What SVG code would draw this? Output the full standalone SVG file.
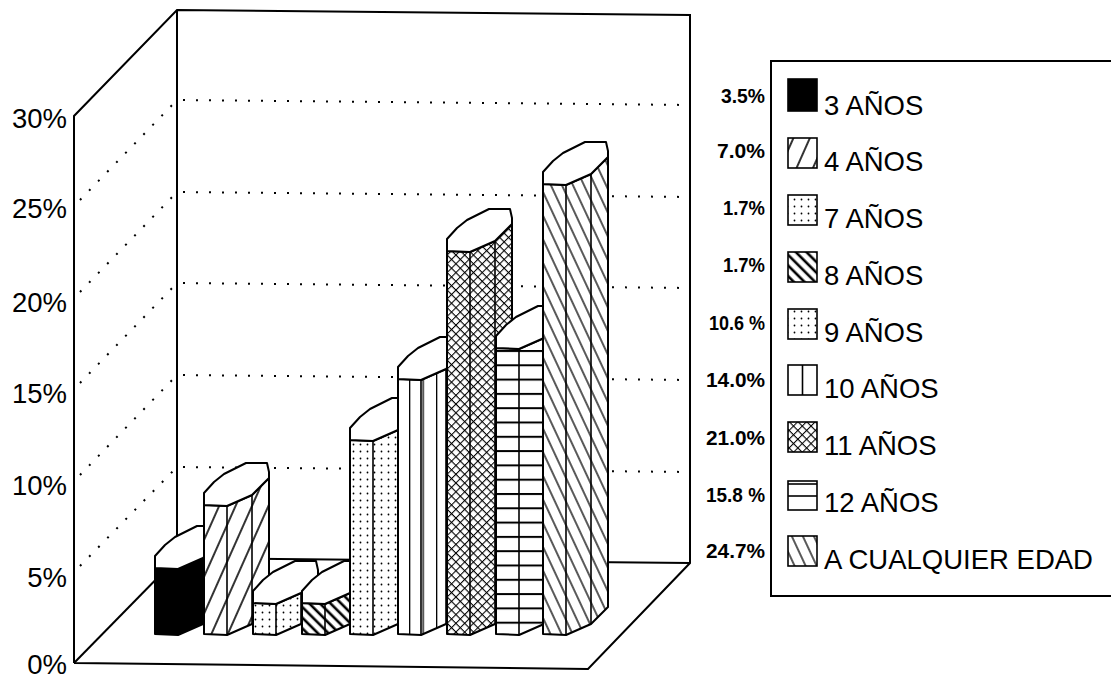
<svg xmlns="http://www.w3.org/2000/svg" width="1111" height="678" viewBox="0 0 1111 678">
<style>
.frame{fill:none;stroke:#000;stroke-width:2}
.grid{fill:none;stroke:#000;stroke-width:2;stroke-dasharray:2 11}
.body{stroke:#000;stroke-width:2;stroke-linejoin:round}
.top{fill:#fff;stroke:#000;stroke-width:2;stroke-linejoin:round}
.div{stroke:#000;stroke-width:1.6}
.ax{font-family:"Liberation Sans",Arial,sans-serif;font-size:27.5px;fill:#000}
.lg{font-family:"Liberation Sans",Arial,sans-serif;font-size:27.5px;fill:#000}
.pc{font-family:"Liberation Sans",Arial,sans-serif;font-size:21px;font-weight:bold;fill:#000}
.sw{stroke:#000;stroke-width:1.6}
</style>
<defs>
<pattern id="pFwd" patternUnits="userSpaceOnUse" width="15" height="15" patternTransform="rotate(24)">
<rect width="15" height="15" fill="#fff"/><line x1="1" y1="0" x2="1" y2="15" stroke="#000" stroke-width="1.6"/>
</pattern>
<pattern id="pDots" patternUnits="userSpaceOnUse" width="7" height="7">
<rect width="7" height="7" fill="#fff"/><circle cx="3.5" cy="3.5" r="0.9" fill="#000"/>
</pattern>
<pattern id="pThick" patternUnits="userSpaceOnUse" width="7.5" height="7.5" patternTransform="rotate(-45)">
<rect width="7.5" height="7.5" fill="#fff"/><line x1="2" y1="0" x2="2" y2="7.5" stroke="#000" stroke-width="2.6"/>
</pattern>
<pattern id="pVert" patternUnits="userSpaceOnUse" x="409" width="13.5" height="10">
<rect width="13.5" height="10" fill="#fff"/><line x1="0.5" y1="0" x2="0.5" y2="10" stroke="#000" stroke-width="1.6"/>
</pattern>
<pattern id="pCross" patternUnits="userSpaceOnUse" width="6.2" height="6.2" patternTransform="rotate(45)">
<rect width="6.2" height="6.2" fill="#fff"/><path d="M0,0.5H6.2M0.5,0V6.2" stroke="#000" stroke-width="1.1" fill="none"/>
</pattern>
<pattern id="pHoriz" patternUnits="userSpaceOnUse" y="350" width="10" height="14.3">
<rect width="10" height="14.3" fill="#fff"/><line x1="0" y1="1" x2="10" y2="1" stroke="#000" stroke-width="2"/>
</pattern>
<pattern id="pBack" patternUnits="userSpaceOnUse" width="10" height="10" patternTransform="rotate(-25)">
<rect width="10" height="10" fill="#fff"/><line x1="1" y1="0" x2="1" y2="10" stroke="#000" stroke-width="1.3"/>
</pattern>
</defs>

<g id="chart-frame">
<polyline class="frame" points="74,663 74,116 177,10 690,15 690,563 588,669 74,663"/>
<line class="frame" x1="177" y1="10" x2="177" y2="558"/>
<line class="frame" x1="74" y1="663" x2="177" y2="558"/>
<line class="frame" x1="177" y1="558" x2="690" y2="563"/>
<g id="gridlines">
<line class="grid" x1="80" y1="200" x2="177" y2="100"/>
<line class="grid" x1="80" y1="292" x2="177" y2="192"/>
<line class="grid" x1="80" y1="383" x2="177" y2="283"/>
<line class="grid" x1="80" y1="475" x2="177" y2="375"/>
<line class="grid" x1="80" y1="566" x2="177" y2="467"/>
<line class="grid" x1="183" y1="100" x2="690" y2="105"/>
<line class="grid" x1="183" y1="192" x2="690" y2="197"/>
<line class="grid" x1="183" y1="283" x2="690" y2="288"/>
<line class="grid" x1="183" y1="375" x2="690" y2="380"/>
<line class="grid" x1="183" y1="467" x2="690" y2="472"/>
</g>
</g>

<g id="y-axis">
<text class="ax" x="67" y="128" text-anchor="end">30%</text>
<text class="ax" x="67" y="218" text-anchor="end">25%</text>
<text class="ax" x="67" y="312" text-anchor="end">20%</text>
<text class="ax" x="67" y="403" text-anchor="end">15%</text>
<text class="ax" x="67" y="495" text-anchor="end">10%</text>
<text class="ax" x="67" y="587" text-anchor="end">5%</text>
<text class="ax" x="67" y="674" text-anchor="end">0%</text>
</g>

<g id="bar-3">
<polygon class="body" fill="#000" points="155,568 178,569 203,558 220,541 220,607 203,624 178,635 155,634"/>
<line class="div" x1="178" y1="569" x2="178" y2="635" stroke="#000"/>
<polygon class="top" points="155,568 178,569 203,558 220,541 220,535 218,526 197,526 175,537 165,545 155,556"/>
</g>
<g id="bar-4">
<polygon class="body" fill="url(#pFwd)" points="204,505 227,506 252,495 269,478 269,607 252,624 227,635 204,634"/>
<line class="div" x1="227" y1="506" x2="227" y2="635"/><line class="div" x1="252" y1="495" x2="252" y2="624"/>
<polygon class="top" points="204,505 227,506 252,495 269,478 269,472 267,463 246,463 224,474 214,482 204,493"/>
</g>
<g id="bar-7">
<polygon class="body" fill="url(#pDots)" points="253,603 276,604 301,593 318,576 318,607 301,624 276,635 253,634"/>
<line class="div" x1="276" y1="604" x2="276" y2="635"/><line class="div" x1="301" y1="593" x2="301" y2="624"/>
<polygon class="top" points="253,603 276,604 301,593 318,576 318,570 316,561 295,561 273,572 263,580 253,591"/>
</g>
<g id="bar-8">
<polygon class="body" fill="url(#pThick)" points="302,603 325,604 350,593 367,576 367,607 350,624 325,635 302,634"/>
<line class="div" x1="325" y1="604" x2="325" y2="635"/><line class="div" x1="350" y1="593" x2="350" y2="624"/>
<polygon class="top" points="302,603 325,604 350,593 367,576 367,570 365,561 344,561 322,572 312,580 302,591"/>
</g>
<g id="bar-9">
<polygon class="body" fill="url(#pDots)" points="350,440 373,441 398,430 415,413 415,607 398,624 373,635 350,634"/>
<line class="div" x1="373" y1="441" x2="373" y2="635"/><line class="div" x1="398" y1="430" x2="398" y2="624"/>
<polygon class="top" points="350,440 373,441 398,430 415,413 415,407 413,398 392,398 370,409 360,417 350,428"/>
</g>
<g id="bar-10">
<polygon class="body" fill="url(#pVert)" points="398,379 421,380 446,369 463,352 463,607 446,624 421,635 398,634"/>
<line class="div" x1="421" y1="380" x2="421" y2="635"/><line class="div" x1="446" y1="369" x2="446" y2="624"/>
<polygon class="top" points="398,379 421,380 446,369 463,352 463,346 461,337 440,337 418,348 408,356 398,367"/>
</g>
<g id="bar-11">
<polygon class="body" fill="url(#pCross)" points="447,251 470,252 495,241 512,224 512,607 495,624 470,635 447,634"/>
<line class="div" x1="470" y1="252" x2="470" y2="635"/><line class="div" x1="495" y1="241" x2="495" y2="624"/>
<polygon class="top" points="447,251 470,252 495,241 512,224 512,218 510,209 489,209 467,220 457,228 447,239"/>
</g>
<g id="bar-12">
<polygon class="body" fill="url(#pHoriz)" points="496,348 519,349 544,338 561,321 561,607 544,624 519,635 496,634"/>
<line class="div" x1="519" y1="349" x2="519" y2="635"/><line class="div" x1="544" y1="338" x2="544" y2="624"/>
<polygon class="top" points="496,348 519,349 544,338 561,321 561,315 559,306 538,306 516,317 506,325 496,336"/>
</g>
<g id="bar-any">
<polygon class="body" fill="url(#pBack)" points="543,184 566,185 591,174 608,157 608,607 591,624 566,635 543,634"/>
<line class="div" x1="566" y1="185" x2="566" y2="635"/><line class="div" x1="591" y1="174" x2="591" y2="624"/>
<polygon class="top" points="543,184 566,185 591,174 608,157 608,151 606,142 585,142 563,153 553,161 543,172"/>
</g>

<g id="values">
<text class="pc" x="765" y="103" text-anchor="end" textLength="44" lengthAdjust="spacingAndGlyphs">3.5%</text>
<text class="pc" x="765" y="158" text-anchor="end" textLength="48" lengthAdjust="spacingAndGlyphs">7.0%</text>
<text class="pc" x="765" y="215" text-anchor="end" textLength="42" lengthAdjust="spacingAndGlyphs">1.7%</text>
<text class="pc" x="765" y="272" text-anchor="end" textLength="42" lengthAdjust="spacingAndGlyphs">1.7%</text>
<text class="pc" x="765" y="330" text-anchor="end" textLength="56" lengthAdjust="spacingAndGlyphs">10.6 %</text>
<text class="pc" x="765" y="387" text-anchor="end" textLength="59" lengthAdjust="spacingAndGlyphs">14.0%</text>
<text class="pc" x="765" y="445" text-anchor="end" textLength="59" lengthAdjust="spacingAndGlyphs">21.0%</text>
<text class="pc" x="765" y="502" text-anchor="end" textLength="59" lengthAdjust="spacingAndGlyphs">15.8 %</text>
<text class="pc" x="765" y="558" text-anchor="end" textLength="59" lengthAdjust="spacingAndGlyphs">24.7%</text>
</g>

<g id="legend">
<rect x="771" y="61" width="360" height="535" fill="none" stroke="#000" stroke-width="2"/>
<rect class="sw" x="788" y="79" width="29" height="32" fill="#000"/>
<text class="lg" x="824" y="115">3 AÑOS</text>
<rect class="sw" x="788" y="138" width="29" height="30" fill="url(#pFwd)"/>
<text class="lg" x="824" y="171">4 AÑOS</text>
<rect class="sw" x="788" y="195" width="29" height="30" fill="url(#pDots)"/>
<text class="lg" x="824" y="228">7 AÑOS</text>
<rect class="sw" x="788" y="252" width="29" height="30" fill="url(#pThick)"/>
<text class="lg" x="824" y="285">8 AÑOS</text>
<rect class="sw" x="788" y="309" width="29" height="30" fill="url(#pDots)"/>
<text class="lg" x="824" y="342">9 AÑOS</text>
<rect class="sw" x="788" y="365" width="29" height="30" fill="#fff"/>
<line class="sw" x1="802.5" y1="365" x2="802.5" y2="395"/>
<text class="lg" x="824" y="398">10 AÑOS</text>
<rect class="sw" x="788" y="422" width="29" height="30" fill="url(#pCross)"/>
<text class="lg" x="824" y="455">11 AÑOS</text>
<rect class="sw" x="788" y="481" width="29" height="29" fill="#fff"/>
<line class="sw" x1="788" y1="484" x2="817" y2="484"/>
<line class="sw" x1="788" y1="496" x2="817" y2="496"/>
<text class="lg" x="824" y="512">12 AÑOS</text>
<rect class="sw" x="788" y="536" width="29" height="30" fill="url(#pBack)"/>
<text class="lg" x="824" y="569">A CUALQUIER EDAD</text>
</g>
</svg>
